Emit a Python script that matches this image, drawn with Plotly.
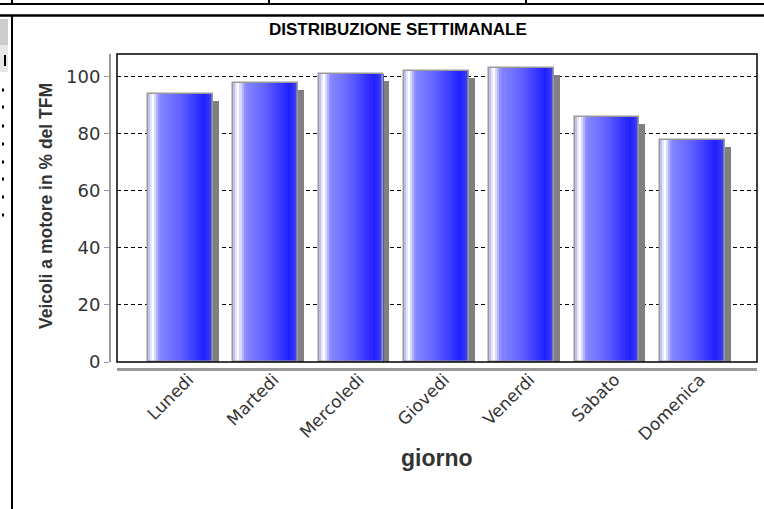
import plotly.graph_objects as go

# ---- data ----
days = ["Lunedi", "Martedi", "Mercoledi", "Giovedi", "Venerdi", "Sabato", "Domenica"]
values = [94, 98, 101, 102, 103, 86, 78]
y_ticks = [0, 20, 40, 60, 80, 100]
title_text = "DISTRIBUZIONE SETTIMANALE"
y_title = "Veicoli a motore in % del TFM"
x_title = "giorno"

W, H = 764, 509
def px(x):
    return x / W
def py(y):
    return 1 - y / H

# plot area in pixels
PL, PR, PT, PB = 117, 757, 54, 362
YMAX = 108
units_per_px_y = YMAX / (PB - PT)
xr = [-0.745, 6.76]
units_per_px_x = (xr[1] - xr[0]) / (PR - PL)

BW = 0.76
OFF = -BW / 2

# gradient stops (t across bar width -> rgb)
stops = [
    (0.00, (170, 170, 235)),
    (0.04, (225, 225, 255)),
    (0.08, (255, 255, 255)),
    (0.12, (200, 200, 255)),
    (0.18, (136, 136, 255)),
    (0.50, (96, 96, 255)),
    (0.86, (32, 32, 255)),
    (0.94, (52, 52, 245)),
    (1.00, (90, 90, 235)),
]
def grad(t):
    for (t0, c0), (t1, c1) in zip(stops[:-1], stops[1:]):
        if t0 <= t <= t1:
            f = (t - t0) / (t1 - t0) if t1 > t0 else 0
            c = [round(a + (b - a) * f) for a, b in zip(c0, c1)]
            return "rgb(%d,%d,%d)" % tuple(c)
    return "rgb(%d,%d,%d)" % stops[-1][1]

fig = go.Figure()

# shadow
sh_dx = 6 * units_per_px_x
sh_dy = 7 * units_per_px_y
fig.add_trace(go.Bar(
    x=days, y=[v - sh_dy for v in values], base=0,
    width=BW, offset=OFF + sh_dx,
    marker=dict(color="#808080", line=dict(width=0)),
    hoverinfo="skip", showlegend=False,
))

# gradient strips
N = 32
sw = BW / N
for i in range(N):
    t = (i + 0.5) / N
    fig.add_trace(go.Bar(
        x=days, y=values, width=sw * 1.08, offset=OFF + i * sw,
        marker=dict(color=grad(t), line=dict(width=0)),
        hoverinfo="skip", showlegend=False,
    ))

# outline
fig.add_trace(go.Bar(
    x=days, y=values, width=BW, offset=OFF,
    marker=dict(color="rgba(0,0,0,0)", line=dict(color="#9a9a9a", width=1.5)),
    showlegend=False,
))

shapes = [
    # plot border
    dict(type="rect", xref="x domain", yref="y domain", x0=0, x1=1, y0=0, y1=1,
         line=dict(color="black", width=1.5), layer="above"),
    # page borders (screenshot frame)
    dict(type="line", xref="paper", yref="paper", x0=0, x1=1, y0=py(4), y1=py(4),
         line=dict(color="black", width=2)),
    dict(type="line", xref="paper", yref="paper", x0=0, x1=1, y0=py(15.5), y1=py(15.5),
         line=dict(color="black", width=2.5)),
    dict(type="line", xref="paper", yref="paper", x0=px(12), x1=px(12), y0=py(16), y1=0,
         line=dict(color="black", width=2)),
    dict(type="rect", xref="paper", yref="paper", x0=0, x1=px(8), y0=py(45), y1=py(19),
         fillcolor="#cccccc", line=dict(width=0)),
    dict(type="rect", xref="paper", yref="paper", x0=0, x1=px(8), y0=py(72), y1=py(45),
         fillcolor="#e6e6e6", line=dict(width=0)),
    dict(type="rect", xref="paper", yref="paper", x0=px(4), x1=px(6), y0=py(66), y1=py(55),
         fillcolor="black", line=dict(width=0)),
]
for xx in [12, 269, 526]:
    shapes.append(dict(type="line", xref="paper", yref="paper", x0=px(xx), x1=px(xx),
                       y0=py(4), y1=1, line=dict(color="black", width=2)))
for yy in [90, 107, 126, 144, 162, 179, 197, 215]:
    shapes.append(dict(type="rect", xref="paper", yref="paper", x0=px(2), x1=px(4),
                       y0=py(yy + 1.5), y1=py(yy - 1.5), fillcolor="black", line=dict(width=0)))

annotations = [
    dict(text="<b>" + title_text + "</b>", x=px(398), y=py(30), xref="paper", yref="paper",
         xanchor="center", yanchor="middle", showarrow=False,
         font=dict(family="Liberation Sans, Arial", size=17, color="black")),
    dict(text="<b>" + y_title + "</b>", x=px(46), y=py(206), xref="paper", yref="paper",
         xanchor="center", yanchor="middle", textangle=-90, showarrow=False,
         font=dict(family="Liberation Sans, Arial", size=17.5, color="#333333")),
    dict(text="<b>" + x_title + "</b>", x=px(437), y=py(458), xref="paper", yref="paper",
         xanchor="center", yanchor="middle", showarrow=False,
         font=dict(family="Liberation Sans, Arial", size=23, color="#333333")),
]

fig.update_layout(
    width=W, height=H,
    margin=dict(l=0, r=0, t=0, b=0),
    paper_bgcolor="white", plot_bgcolor="white",
    barmode="overlay",
    bargap=0,
    showlegend=False,
    shapes=shapes,
    annotations=annotations,
    xaxis=dict(
        type="category", domain=[px(PL), px(PR)], range=xr,
        anchor="free", position=py(369),
        showline=True, linecolor="#999999", linewidth=3,
        ticks="", showgrid=False, tickangle=-45,
        ticklabelstandoff=-8, ticklabelshift=8,
        tickfont=dict(family="DejaVu Sans", size=17, color="#333333"),
        automargin=False,
    ),
    yaxis=dict(
        domain=[py(PB), py(PT)], range=[0, YMAX],
        anchor="free", position=px(110),
        tickvals=y_ticks,
        showline=True, linecolor="#999999", linewidth=2,
        ticks="outside", ticklen=5, tickcolor="#999999", tickwidth=1,
        showgrid=True, gridcolor="black", gridwidth=1, griddash="4px,3px",
        zeroline=False,
        tickfont=dict(family="DejaVu Sans", size=18, color="#333333"),
        automargin=False,
    ),
)

fig.write_html("out.html", config={"displayModeBar": False},
               post_script="document.body.style.margin='0';")
